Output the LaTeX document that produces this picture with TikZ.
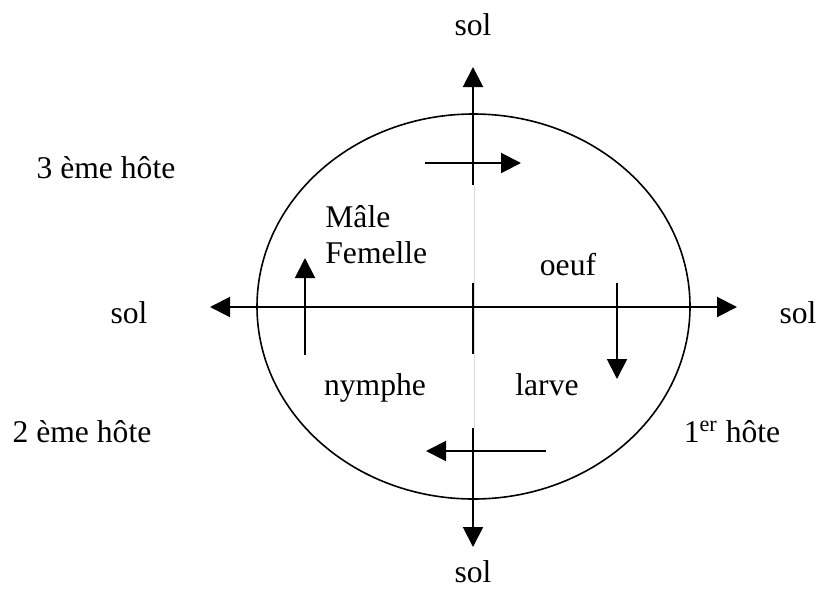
\documentclass[tikz,border=0pt]{standalone}
\usepackage{fontspec}
\setmainfont{Liberation Serif}
\usetikzlibrary{arrows.meta}
\begin{document}
\begin{tikzpicture}[x=0.5pt,y=-0.5pt,
  lbl/.style={font=\fontsize{15.8}{18}\selectfont, inner sep=0pt},
  axis/.style={line width=1pt},
  arr/.style={line width=1pt,-{Triangle[length=10pt,width=10pt]}},
  faint/.style={draw=black!15,line width=0.4pt}]
\useasboundingbox (0,0) rectangle (818,589);
\draw[line width=0.8pt] (473.5,306.5) ellipse [x radius=216.5, y radius=192.5];
% faint centre line
\coordinate (f1) at (474,185);
\coordinate (f2) at (474,428);
\draw[faint] (f1) -- (f2);
% vertical axis segments
\coordinate (vt0) at (473,185);
\coordinate (vt1) at (473,67);
\draw[arr] (vt0) -- (vt1);
\coordinate (vm0) at (473,283);
\coordinate (vm1) at (473,354);
\draw[axis] (vm0) -- (vm1);
\coordinate (vb0) at (473,428);
\coordinate (vb1) at (473,547);
\draw[arr] (vb0) -- (vb1);
% horizontal axis
\coordinate (hl) at (210,307);
\coordinate (hr) at (737,307);
\draw[axis,{Triangle[length=10pt,width=10pt]}-{Triangle[length=10pt,width=10pt]}] (hl) -- (hr);
% cycle arrows
\coordinate (a1s) at (425,163);
\coordinate (a1e) at (521,163);
\draw[arr] (a1s) -- (a1e);
\coordinate (a2s) at (617,283);
\coordinate (a2e) at (617,379);
\draw[arr] (a2s) -- (a2e);
\coordinate (a3s) at (546,451);
\coordinate (a3e) at (426,451);
\draw[arr] (a3s) -- (a3e);
\coordinate (a4s) at (305,355);
\coordinate (a4e) at (305,258);
\draw[arr] (a4s) -- (a4e);
% labels
\node[lbl] (soltop) at (473,25) {sol};
\node[lbl] (solbot) at (473,572) {sol};
\node[lbl] (solleft) at (129,313) {sol};
\node[lbl] (solright) at (798,313) {sol};
\node[lbl,anchor=base] (h3) at (106,178) {3 ème hôte};
\node[lbl,anchor=base] (h2) at (82,442) {2 ème hôte};
\node[lbl,anchor=base] (h1) at (732,442) {1\textsuperscript{er} hôte};
\node[lbl,anchor=base west] (male) at (325,227) {Mâle};
\node[lbl,anchor=base west] (femelle) at (325,263) {Femelle};
\node[lbl,anchor=base] (oeuf) at (568,275) {oeuf};
\node[lbl,anchor=base] (nymphe) at (375,395) {nymphe};
\node[lbl,anchor=base] (larve) at (547,395) {larve};
\end{tikzpicture}
\end{document}
